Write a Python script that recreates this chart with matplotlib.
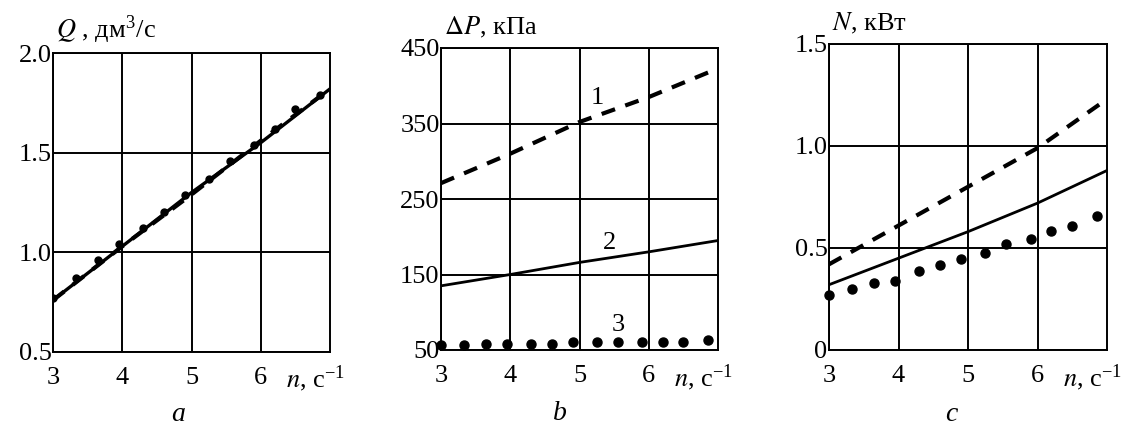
import numpy as np
import matplotlib
matplotlib.use('Agg')
import matplotlib.pyplot as plt

plt.rcParams['font.family'] = ['Liberation Serif', 'DejaVu Serif']
plt.rcParams['mathtext.fontset'] = 'stix'

# --- data ---
n_line = [3, 4, 5, 6, 7]
n_dots = [3.0, 3.33, 3.65, 3.95, 4.3, 4.6, 4.9, 5.25, 5.55, 5.9, 6.2, 6.5, 6.85]

# a: flow rate Q, dm3/s (three curves almost coincide)
Q_solid = [0.76, 1.03, 1.30, 1.55, 1.82]
Q_dash = [0.76, 1.03, 1.29, 1.56, 1.82]
Q_dots = [0.77, 0.87, 0.96, 1.04, 1.12, 1.20, 1.29, 1.37, 1.46, 1.54, 1.62, 1.72, 1.79]

# b: pressure drop dP, kPa
P1 = [271, 310, 352, 385, 423]
P2 = [135, 150, 166, 180, 195]
P3 = [57, 56, 58, 58, 58, 58, 60, 60, 60, 60, 60, 60, 63]

# c: power N, kW
N_dash = [0.42, 0.61, 0.80, 0.99, 1.23]
N_solid = [0.32, 0.45, 0.58, 0.72, 0.88]
N_dots = [0.27, 0.30, 0.33, 0.34, 0.385, 0.415, 0.445, 0.475, 0.52, 0.545, 0.585, 0.61, 0.655]

fig = plt.figure(figsize=(11.26, 4.30), dpi=100)
W, H = 1126, 430

def make_axes(left, right, top, bottom):
    return fig.add_axes([left / W, 1 - bottom / H, (right - left) / W, (bottom - top) / H])

fs = 19
dash_style = (0, (3.4, 2.6))

def style(ax, ylim, yticks, yticklabels, ylabel, sub, lab_x):
    ax.set_xlim(3, 7)
    ax.set_ylim(*ylim)
    ax.set_xticks([3, 4, 5, 6])
    ax.set_xticklabels(['3', '4', '5', '6'], fontsize=fs)
    ax.set_yticks(yticks)
    ax.set_yticklabels(yticklabels, fontsize=fs)
    ax.tick_params(length=0, pad=1)
    ax.tick_params(axis='x', pad=11)
    ax.grid(True, color='black', lw=1.4)
    ax.set_axisbelow(True)
    for s in ax.spines.values():
        s.set_linewidth(1.4)
    ax.text(0.01, 1.025, ylabel, transform=ax.transAxes, fontsize=fs, ha='left', va='bottom')
    ax.text(0.84, -0.09, r'$n$, с$^{\mathregular{-1}}$', transform=ax.transAxes, fontsize=fs,
            ha='left', va='center')
    ax.text(lab_x, -0.21, sub, transform=ax.transAxes, fontsize=fs + 1, style='italic',
            ha='center', va='center')

# panel a
ax1 = make_axes(53, 330, 53, 352)
ax1.plot(n_line, Q_solid, color='black', lw=2.4)
ax1.plot(n_line, Q_dash, color='black', lw=3, linestyle=dash_style)
ax1.plot(n_dots, Q_dots, 'o', color='black', ms=5)
style(ax1, (0.5, 2.0), [0.5, 1.0, 1.5, 2.0], ['0.5', '1.0', '1.5', '2.0'],
      r'$Q$ , дм$^{\mathregular{3}}$/с', 'a', 0.45)

# panel b
ax2 = make_axes(441, 718, 48, 350)
ax2.plot(n_line, P1, color='black', lw=3, linestyle=dash_style)
ax2.plot(n_line, P2, color='black', lw=2)
ax2.plot(n_dots, P3, 'o', color='black', ms=6.5, clip_on=False)
ax2.text(5.25, 384, '1', fontsize=fs, ha='center', va='center')
ax2.text(5.44, 192, '2', fontsize=fs, ha='center', va='center')
ax2.text(5.56, 83, '3', fontsize=fs, ha='center', va='center')
style(ax2, (50, 450), [50, 150, 250, 350, 450], ['50', '150', '250', '350', '450'],
      r'$\Delta P$, кПа', 'b', 0.43)

# panel c
ax3 = make_axes(829, 1107, 44, 350)
ax3.plot(n_line, N_dash, color='black', lw=3, linestyle=dash_style)
ax3.plot(n_line, N_solid, color='black', lw=2)
ax3.plot(n_dots, N_dots, 'o', color='black', ms=6.5, clip_on=False)
style(ax3, (0, 1.5), [0, 0.5, 1.0, 1.5], ['0', '0.5', '1.0', '1.5'],
      r'$N$, кВт', 'c', 0.44)

fig.savefig('out.png', dpi=100)
